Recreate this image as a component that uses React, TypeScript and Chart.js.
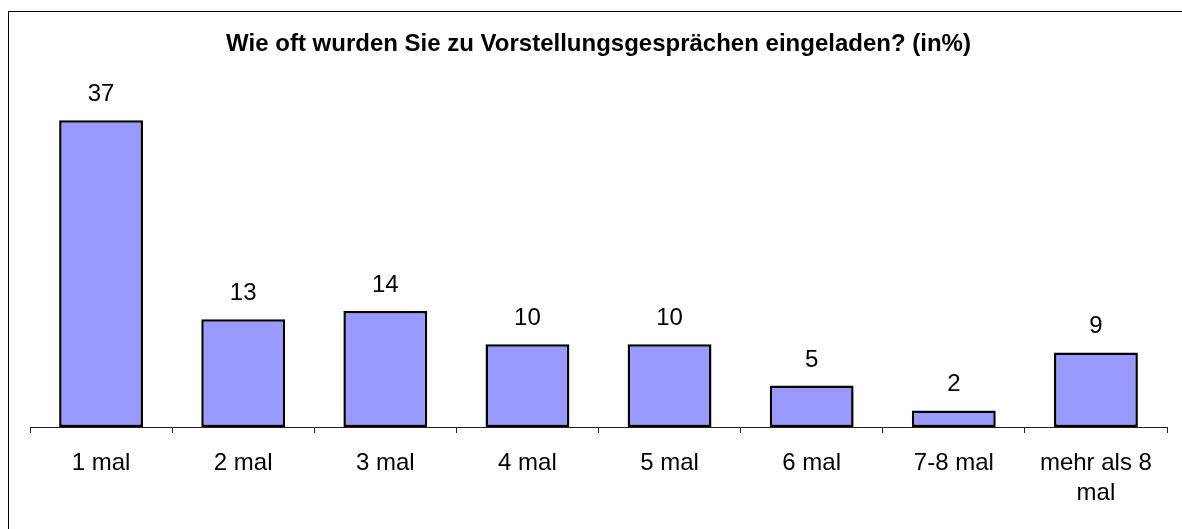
import React, { useEffect, useRef } from "react";
import { Chart, registerables } from "chart.js";

Chart.register(...registerables);

const titleText = "Wie oft wurden Sie zu Vorstellungsgesprächen eingeladen? (in%)";
const categories: (string | string[])[] = [
  "1 mal",
  "2 mal",
  "3 mal",
  "4 mal",
  "5 mal",
  "6 mal",
  "7-8 mal",
  ["mehr als 8", "mal"],
];
const values: number[] = [37, 13, 14, 10, 10, 5, 2, 9];
const yMax = 40;

const FONT = "'Liberation Sans', Arial, Helvetica, sans-serif";

const valueLabels = {
  id: "valueLabels",
  afterDatasetsDraw(chart: any) {
    const ctx = chart.ctx;
    const meta = chart.getDatasetMeta(0);
    ctx.save();
    ctx.font = `24px ${FONT}`;
    ctx.fillStyle = "#000";
    ctx.textAlign = "center";
    ctx.textBaseline = "alphabetic";
    meta.data.forEach((bar: any, i: number) => {
      ctx.fillText(String(values[i]), bar.x, bar.y - 19);
    });
    ctx.restore();
  },
};

export default function App() {
  const ref = useRef<HTMLCanvasElement | null>(null);
  useEffect(() => {
    if (!ref.current) return;
    const chart = new Chart(ref.current, {
      type: "bar",
      data: {
        labels: categories,
        datasets: [
          {
            data: values,
            backgroundColor: "#9999FF",
            borderColor: "#000",
            borderWidth: 2.5,
            borderSkipped: false,
            barPercentage: 0.59,
            categoryPercentage: 1,
          },
        ],
      },
      options: {
        responsive: false,
        animation: false,
        layout: { padding: { left: 21, right: 15, top: 0, bottom: 6 } },
        plugins: {
          legend: { display: false },
          tooltip: { enabled: false },
          title: {
            display: true,
            text: titleText,
            color: "#000",
            font: { family: FONT, size: 24, weight: "bold", lineHeight: 1.2 },
            padding: { top: 18, bottom: 36.7 },
          },
        },
        scales: {
          x: {
            grid: {
              display: true,
              drawOnChartArea: false,
              drawTicks: true,
              tickLength: 6,
              offset: true,
              color: "#222",
            },
            border: { display: true, color: "#222", width: 1 },
            ticks: {
              color: "#000",
              padding: 15,
              maxRotation: 0,
              autoSkip: false,
              font: { family: FONT, size: 24, lineHeight: 30 / 24 },
            },
          },
          y: {
            display: false,
            min: 0,
            max: yMax,
          },
        },
      },
      plugins: [valueLabels],
    });
    return () => chart.destroy();
  }, []);
  return (
    <div
      style={{
        position: "fixed",
        left: 8,
        top: 11,
        width: 1300,
        height: 700,
        borderTop: "1px solid #000",
        borderLeft: "1px solid #000",
        background: "#fff",
      }}
    >
      <canvas ref={ref} width={1173} height={517} style={{ display: "block" }} />
    </div>
  );
}
